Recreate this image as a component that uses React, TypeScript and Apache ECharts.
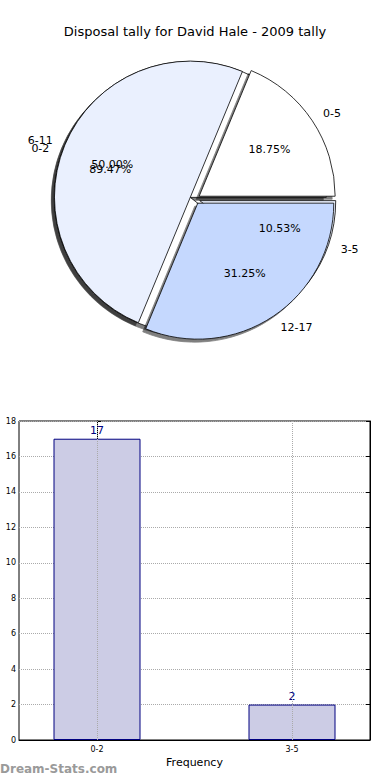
import React, { useEffect, useRef } from "react";
import * as echarts from "echarts";

const titleText = "Disposal tally for David Hale - 2009 tally";
const pieACategories = ["0-5", "6-11", "12-17"];
const pieAValues = [3, 8, 5];
const pieAColors = ["#ffffff", "#eaf0fe", "#c5d8fe"];
const pieBCategories = ["0-2", "3-5"];
const pieBValues = [17, 2];
const pieBColors = ["#ffffff", "#eaf0fe"];
const barCategories = ["0-2", "3-5"];
const barPositions = [0, 1];
const barValues = [17, 2];
const yTicks = { min: 0, max: 18, interval: 2 };

const FONT = "DejaVu Sans";
const R = 136;
const CENTER = [195, 199];

function pieData(names: string[], values: number[], colors: string[]) {
  return names.map((n, i) => ({
    name: n,
    value: values[i],
    selected: true,
    itemStyle: { color: colors[i] },
  }));
}

const pieBase = {
  type: "pie",
  center: CENTER,
  startAngle: 0,
  clockwise: false,
  selectedMode: "multiple",
  selectedOffset: 5,
  avoidLabelOverlap: false,
  labelLayout: { hideOverlap: false },
  emphasis: { disabled: true },
  animation: false,
};

function pieMain(names: string[], values: number[], colors: string[], z: number) {
  return {
    ...pieBase,
    z,
    radius: [0, R],
    data: pieData(names, values, colors),
    itemStyle: {
      borderColor: "#000",
      borderWidth: 0.8,
      shadowColor: "rgba(0,0,0,0.5)",
      shadowOffsetX: -3,
      shadowOffsetY: 3,
      shadowBlur: 0,
    },
    label: {
      show: true,
      position: "outside",
      formatter: "{b}",
      color: "#000",
      fontFamily: FONT,
      fontSize: 11,
      distanceToLabelLine: 0,
    },
    labelLine: { show: false, length: 13, length2: 0 },
  };
}

function piePct(names: string[], values: number[], z: number) {
  return {
    ...pieBase,
    z,
    silent: true,
    radius: [0, R * 1.2],
    data: pieData(names, values, names.map(() => "rgba(0,0,0,0)")),
    itemStyle: { borderWidth: 0 },
    label: {
      show: true,
      position: "inside",
      formatter: (p: any) => p.percent.toFixed(2) + "%",
      color: "#000",
      fontFamily: FONT,
      fontSize: 11,
    },
    labelLine: { show: false },
  };
}

export default function App() {
  const ref = useRef<HTMLDivElement>(null);
  useEffect(() => {
    if (!ref.current) return;
    const chart = echarts.init(ref.current, null, { renderer: "svg" });
    const option: any = {
      animation: false,
      title: {
        text: titleText,
        left: "center",
        top: 20,
        textStyle: { fontFamily: FONT, fontSize: 13, fontWeight: "normal", color: "#000" },
      },
      graphic: [
        {
          type: "text",
          left: 0,
          top: 763,
          style: { text: "Dream-Stats.com", fill: "#9a9a9a", font: "bold 12px 'DejaVu Sans'" },
        },
      ],
      grid: {
        left: 19,
        right: 20,
        top: 421,
        bottom: 40,
        containLabel: false,
        outerBoundsMode: "none",
        show: true,
        borderColor: "#000",
        borderWidth: 1,
        backgroundColor: "transparent",
      },
      xAxis: {
        type: "value",
        min: -0.4,
        max: 1.4,
        name: "Frequency",
        nameLocation: "middle",
        nameGap: 17,
        nameTextStyle: { fontFamily: FONT, fontSize: 11, color: "#000" },
        axisLine: { show: true, lineStyle: { color: "#000" } },
        axisTick: { show: true, inside: true, length: 4, customValues: barPositions, lineStyle: { color: "#000" } },
        axisLabel: {
          customValues: barPositions,
          formatter: (v: number) => barCategories[Math.round(v)] ?? "",
          fontFamily: FONT,
          fontSize: 8,
          color: "#000",
          margin: 5,
        },
        splitLine: { show: false },
      },
      yAxis: [
        {
          type: "value",
          min: yTicks.min,
          max: yTicks.max,
          interval: yTicks.interval,
          name: "Disposal Tally",
          nameLocation: "middle",
          nameGap: 28,
          nameTextStyle: { fontFamily: FONT, fontSize: 11, color: "#000" },
          axisLine: { show: true, lineStyle: { color: "#000" } },
          axisTick: { show: true, inside: true, length: 4, lineStyle: { color: "#000" } },
          axisLabel: { fontFamily: FONT, fontSize: 8, color: "#000", margin: 3 },
          splitLine: { show: true, lineStyle: { type: "dotted", color: "#aaaaaa", width: 1 } },
        },
        {
          type: "value",
          position: "right",
          min: yTicks.min,
          max: yTicks.max,
          interval: yTicks.interval,
          axisLine: { show: true, lineStyle: { color: "#000" } },
          axisTick: { show: true, inside: true, length: 4, lineStyle: { color: "#000" } },
          axisLabel: { show: false },
          splitLine: { show: false },
        },
      ],
      series: [
        pieMain(pieBCategories, pieBValues, pieBColors, 2),
        pieMain(pieACategories, pieAValues, pieAColors, 3),
        piePct(pieBCategories, pieBValues, 4),
        piePct(pieACategories, pieAValues, 5),
        {
          type: "bar",
          data: barPositions.map((x, i) => [x, barValues[i]]),
          barWidth: 87,
          itemStyle: { color: "#ccccE5", borderColor: "#000080", borderWidth: 1 },
          label: {
            show: true,
            position: "top",
            distance: 3,
            formatter: (p: any) => String(p.value[1]),
            color: "#000080",
            fontFamily: FONT,
            fontSize: 11,
          },
          emphasis: { disabled: true },
          markLine: {
            silent: true,
            symbol: "none",
            label: { show: false },
            lineStyle: { type: "dotted", color: "#aaaaaa", width: 1 },
            data: barPositions.map((x) => ({ xAxis: x })),
            z: 10,
          },
        },
      ],
    };
    chart.setOption(option);
    return () => chart.dispose();
  }, []);
  return (
    <div
      ref={ref}
      style={{ position: "absolute", left: 0, top: 0, width: 390, height: 780, background: "#fff" }}
    />
  );
}
